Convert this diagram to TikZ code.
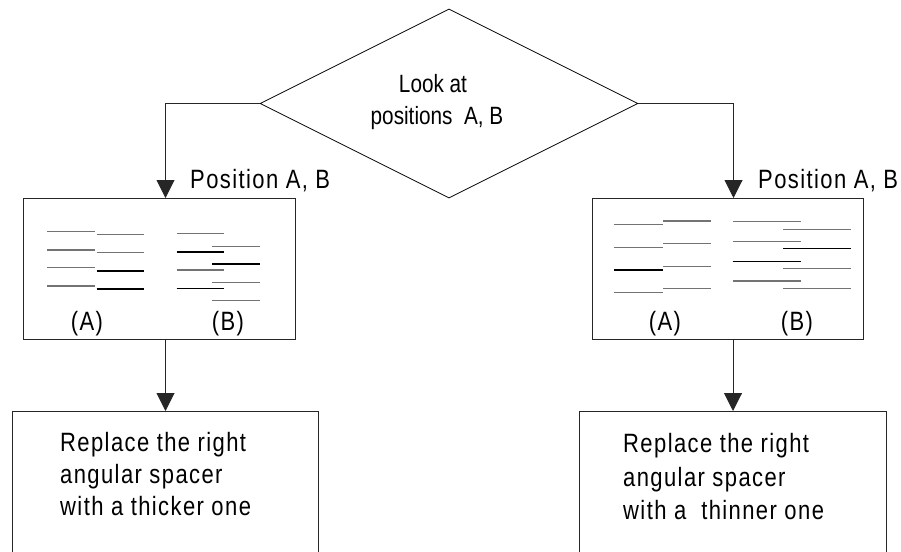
\documentclass[tikz,border=0pt]{standalone}
\usepackage{fontspec}
\setmainfont{Liberation Sans}
\newfontfamily\narfont[FakeStretch=0.83]{Liberation Sans}
\newfontfamily\spcfont[FakeStretch=0.83,LetterSpace=5.3]{Liberation Sans}
\usetikzlibrary{shapes.geometric,arrows.meta}
\tikzset{
  boxnode/.style={draw=black!85, line width=1pt, inner sep=0pt, anchor=north west},
  conn/.style={draw=black!85, line width=1pt, -{Triangle[width=18pt,length=18pt]}},
  segg/.style={draw=black!55, line width=1.3pt},
  segb/.style={draw=black, line width=1.2pt},
  dtxt/.style={anchor=base, inner sep=0pt, font=\narfont\fontsize{25}{30}\selectfont},
  btxt/.style={anchor=base west, inner sep=0pt, font=\spcfont\fontsize{26.5}{32}\selectfont},
  ctxt/.style={anchor=base, inner sep=0pt, font=\spcfont\fontsize{26.5}{32}\selectfont},
}
\begin{document}
\begin{tikzpicture}[x=1pt,y=-1pt]
\useasboundingbox (0,0) rectangle (901,551);
\clip (0,0) rectangle (901,551);
% diamond
\node[shape=diamond, draw=black, line width=0.8pt, aspect=2, minimum width=378, minimum height=189, inner sep=0pt] (dia) at (449,103.5) {};
\node[dtxt] (look1) at (433,92) {Look at};
\node[dtxt] (look2) at (437,124) {positions\ \ A, B};
% upper boxes
\node[boxnode, minimum width=272, minimum height=141] (ul) at (23,198) {};
\node[boxnode, minimum width=271, minimum height=141] (ur) at (592,198) {};
% lower boxes
\node[boxnode, minimum width=306, minimum height=180] (bl) at (12,411) {};
\node[boxnode, minimum width=307, minimum height=180] (br) at (579,411) {};
% connectors
\draw[conn] (dia.west) -| ([xshift=6pt]ul.north);
\draw[conn] (dia.east) -| ([xshift=5.5pt]ur.north);
\draw[conn] (bl.north |- ul.south) -- (bl.north);
\draw[conn] (br.north |- ur.south) -- (br.north);
% labels
\node[btxt] (pl) at (190,188) {Position A, B};
\node[btxt] (pr) at (758,188) {Position A, B};
\node[ctxt] (la) at (87,330) {(A)};
\node[ctxt] (lb) at (228,330) {(B)};
\node[ctxt] (ra) at (665,330) {(A)};
\node[ctxt] (rb) at (797,330) {(B)};
\node[btxt] (bl1) at (60,451) {Replace the right};
\node[btxt] (bl2) at (60,483) {angular spacer};
\node[btxt] (bl3) at (60,515) {with a thicker one};
\node[btxt] (br1) at (623,452.5) {Replace the right};
\node[btxt] (br2) at (623,486) {angular spacer};
\node[btxt] (br3) at (623,519) {with a\ \ thinner one};
% left box, column A
\draw[segg] (47,231.7) -- (95,231.7);
\draw[segg] (47,250) -- (95,250);
\draw[segg] (47,267.7) -- (95,267.7);
\draw[segg] (47,286) -- (95,286);
\draw[segg] (96.7,234.3) -- (144,234.3);
\draw[segg] (96.7,252.7) -- (144,252.7);
\draw[segb] (96.7,271) -- (144,271);
\draw[segb] (96.7,289) -- (144,289);
% left box, column B
\draw[segg] (176.7,233.3) -- (224.3,233.3);
\draw[segb] (176.7,252) -- (224.3,252);
\draw[segg] (176.7,270) -- (224.3,270);
\draw[segb] (176.7,288.3) -- (224.3,288.3);
\draw[segg] (212.3,246.7) -- (260,246.7);
\draw[segb] (212.3,264) -- (260,264);
\draw[segg] (212.3,282.7) -- (260,282.7);
\draw[segg] (212.3,300.7) -- (260,300.7);
% right box, column A
\draw[segg] (614,224.3) -- (662.7,224.3);
\draw[segg] (614,247.3) -- (662.7,247.3);
\draw[segb] (614,270) -- (662.7,270);
\draw[segg] (614,292.7) -- (662.7,292.7);
\draw[segg] (663.3,221) -- (710.7,221);
\draw[segg] (663.3,243.3) -- (710.7,243.3);
\draw[segg] (663.3,266.7) -- (710.7,266.7);
\draw[segg] (663.3,288.3) -- (710.7,288.3);
% right box, column B
\draw[segg] (732.7,221.7) -- (800.7,221.7);
\draw[segg] (732.7,241.7) -- (800.7,241.7);
\draw[segb] (732.7,261.7) -- (800.7,261.7);
\draw[segg] (732.7,281) -- (800.7,281);
\draw[segg] (783.3,229.3) -- (851.3,229.3);
\draw[segb] (783.3,248.7) -- (851.3,248.7);
\draw[segg] (783.3,268.7) -- (851.3,268.7);
\draw[segg] (783.3,288.3) -- (851.3,288.3);
\end{tikzpicture}
\end{document}
